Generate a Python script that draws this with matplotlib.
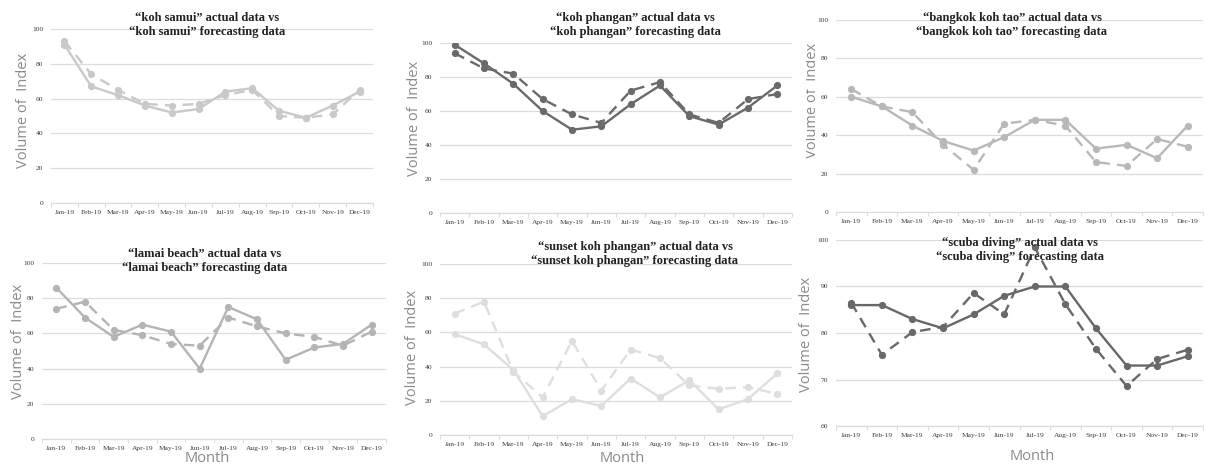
import matplotlib
matplotlib.use('Agg')
import matplotlib.pyplot as plt
from matplotlib.transforms import Bbox, TransformedBbox

W, H = 1215, 468
DPI = 100

months = ["Jan-19", "Feb-19", "Mar-19", "Apr-19", "May-19", "Jun-19",
          "Jul-19", "Aug-19", "Sep-19", "Oct-19", "Nov-19", "Dec-19"]

samui_actual = [91, 67, 62, 56, 52, 54, 64, 66, 53, 49, 56, 64]
samui_forecast = [93, 74, 65, 57, 56, 57, 62, 65, 50, 49, 51, 65]

phangan_actual = [99, 88, 76, 60, 49, 51, 64, 75, 57, 52, 62, 75]
phangan_forecast = [94, 85, 82, 67, 58, 53, 72, 77, 58, 53, 67, 70]

kohtao_actual = [60, 55, 45, 37, 32, 39, 48, 48, 33, 35, 28, 45]
kohtao_forecast = [64, 55, 52, 35, 22, 46, 48, 45, 26, 24, 38, 34]

lamai_actual = [86, 69, 58, 65, 61, 40, 75, 68, 45, 52, 54, 65]
lamai_forecast = [74, 78, 62, 59, 54, 53, 69, 64, 60, 58, 53, 61]

sunset_actual = [59, 53, 38, 11, 21, 17, 33, 22, 32, 15, 21, 36]
sunset_forecast = [71, 78, 37, 22, 55, 26, 50, 45, 29, 27, 28, 24]

scuba_actual = [86, 86, 83, 81, 84, 88, 90, 90, 81, 73, 73, 75]
scuba_forecast = [86.5, 75.3, 80.2, 81.3, 88.6, 84, 98.4, 86.2, 76.6, 68.6, 74.4, 76.4]

TITLE_FONT = 'Liberation Serif'
LABEL_FONT = 'Open Sans'
GRID_COLOR = '#dcdcdc'
LABEL_COLOR = '#8a8a8a'
TICK_COLOR = '#3c3c3c'


def px(x, y):
    return x / W, 1 - y / H


def box(left, top, right, bottom):
    return [left / W, 1 - bottom / H, (right - left) / W, (bottom - top) / H]


def drawPanel(fig, rect, actual, forecast, name, color, ylim, yticks, title_xy):
    ax = fig.add_axes(box(*rect))
    x = list(range(len(months)))
    ax.plot(x, forecast, color=color, linewidth=1.7, linestyle=(0, (4.5, 3)),
            marker='o', markersize=4.2, zorder=3)
    ax.plot(x, actual, color=color, linewidth=1.7, marker='o', markersize=4.2, zorder=4)
    ax.set_xlim(-0.5, len(months) - 0.5)
    ax.set_ylim(*ylim)
    ax.set_yticks(yticks)
    ax.set_xticks(x)
    ax.set_xticklabels(months, fontsize=5.4, family=TITLE_FONT, color=TICK_COLOR)
    ax.set_xticks([i + 0.5 for i in range(-1, len(months))], minor=True)
    ax.tick_params(axis='x', which='major', length=0, pad=5)
    ax.tick_params(axis='x', which='minor', length=3, color=GRID_COLOR, width=0.8)
    ax.tick_params(axis='y', length=0, pad=5.5, labelsize=5.4, labelcolor=TICK_COLOR)
    for lab in ax.get_yticklabels():
        lab.set_family(TITLE_FONT)
    ax.grid(axis='y', color=GRID_COLOR, linewidth=0.9)
    ax.set_axisbelow(True)
    for side in ['left', 'right', 'top']:
        ax.spines[side].set_visible(False)
    ax.spines['bottom'].set_color(GRID_COLOR)
    ax.spines['bottom'].set_linewidth(0.9)
    ax.patch.set_alpha(0)
    tx, ty = px(*title_xy)
    fig.text(tx, ty, f'\u201c{name}\u201d actual data vs\n\u201c{name}\u201d forecasting data',
             ha='center', va='center', fontsize=9, fontweight='bold',
             family=TITLE_FONT, color='#222222', linespacing=1.25)
    return ax


def sideLabel(fig, text, xy, rotation=90, clip=None):
    tx, ty = px(*xy)
    t = fig.text(tx, ty, text, ha='center', va='center', rotation=rotation,
                 fontsize=10.5, family=LABEL_FONT, color=LABEL_COLOR)
    if clip is not None:
        l, tp, r, b = clip
        bb = Bbox([[l / W, 1 - b / H], [r / W, 1 - tp / H]])
        t.set_clip_box(TransformedBbox(bb, fig.transFigure))
        t.set_clip_on(True)
    return t


fig = plt.figure(figsize=(W / DPI, H / DPI), dpi=DPI)
fig.patch.set_facecolor('white')

ticks100 = [0, 20, 40, 60, 80, 100]

drawPanel(fig, (51, 29, 373, 203), samui_actual, samui_forecast, 'koh samui',
          '#c9c9c9', (0, 100), ticks100, (207, 25))
drawPanel(fig, (440, 43, 792, 213), phangan_actual, phangan_forecast, 'koh phangan',
          '#6a6a6a', (0, 100), ticks100, (635, 25))
drawPanel(fig, (836, 20, 1203, 212), kohtao_actual, kohtao_forecast, 'bangkok koh tao',
          '#b8b8b8', (0, 100), ticks100, (1012, 25))
drawPanel(fig, (42, 263, 386, 439), lamai_actual, lamai_forecast, 'lamai beach',
          '#b4b4b4', (0, 100), ticks100, (205, 261))
drawPanel(fig, (440, 264, 792, 435), sunset_actual, sunset_forecast, 'sunset koh phangan',
          '#dedede', (0, 100), ticks100, (635, 254))
drawPanel(fig, (836, 240, 1203, 426), scuba_actual, scuba_forecast, 'scuba diving',
          '#686868', (60, 100), [60, 70, 80, 90, 100], (1020, 250))

sideLabel(fig, 'Volume of  Index', (24, 110))
sideLabel(fig, 'Volume of  Index', (414, 118))
sideLabel(fig, 'Volume of  Index', (812, 100), clip=(806, 0, 830, 234))
sideLabel(fig, 'Volume of  Index', (19, 341))
sideLabel(fig, 'Volume of  Index', (412, 347))
sideLabel(fig, 'Volume of  Index', (807, 334))

sideLabel(fig, 'Month', (207, 459), rotation=0)
sideLabel(fig, 'Month', (622, 459), rotation=0)
sideLabel(fig, 'Month', (1032, 456), rotation=0)

fig.savefig('out.png', dpi=DPI)
